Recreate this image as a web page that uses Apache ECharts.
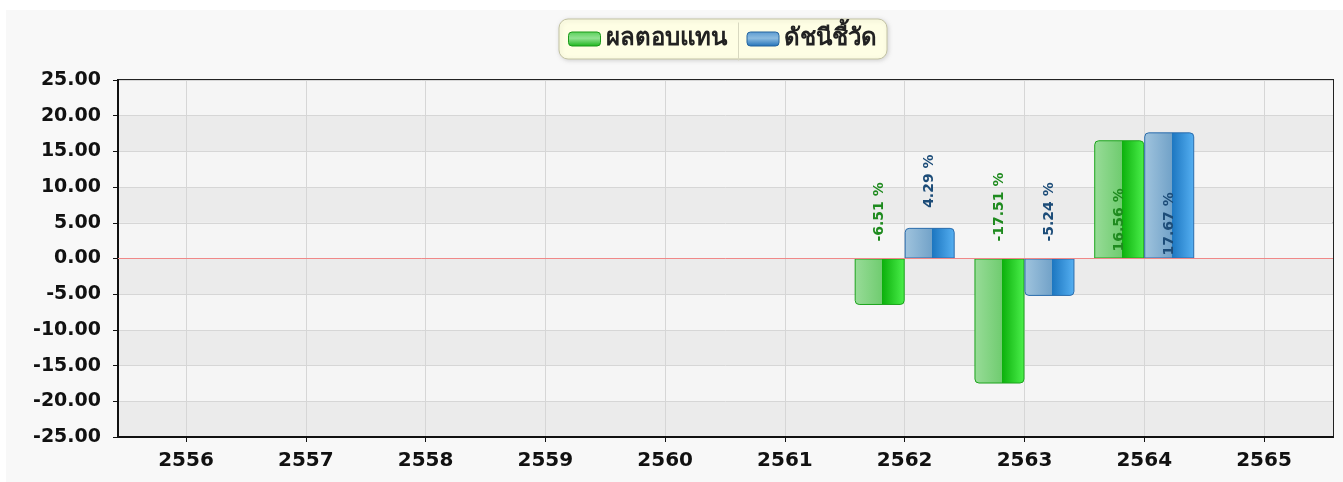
<!DOCTYPE html>
<html>
<head>
<meta charset="utf-8">
<script src="https://cdn.jsdelivr.net/npm/echarts@6/dist/echarts.min.js"></script>
<style>
  html, body { margin: 0; padding: 0; background: #ffffff; width: 1343px; height: 482px; overflow: hidden; }
  #c { position: absolute; left: 6px; top: 10px; width: 1337px; height: 472px; }
</style>
</head>
<body>
<div id="c"></div>
<script>
// ---- data ----
const years = [2556, 2557, 2558, 2559, 2560, 2561, 2562, 2563, 2564, 2565];
const dataYears = [2562, 2563, 2564];
const seriesNames = ['ผลตอบแทน', 'ดัชนีชี้วัด'];
const returnValues = [-6.51, -17.51, 16.56];
const benchmarkValues = [4.29, -5.24, 17.67];
const yMin = -25, yMax = 25, yStep = 5;

const FONT = '"DejaVu Sans", "Noto Sans", sans-serif';
const LG = echarts.graphic.LinearGradient;

const greenFill = new LG(0, 0, 1, 0, [
  { offset: 0, color: '#98dc98' }, { offset: 0.55, color: '#70cc70' },
  { offset: 0.55, color: '#0cb00c' }, { offset: 1, color: '#4cf04c' }
]);
const blueFill = new LG(0, 0, 1, 0, [
  { offset: 0, color: '#a0c4de' }, { offset: 0.55, color: '#72a2c8' },
  { offset: 0.55, color: '#1c76c0' }, { offset: 1, color: '#56b0f2' }
]);

function makeData(vals, bigInside) {
  return vals.map((v, i) => {
    const pos = v >= 0;
    const inside = pos && v > 10;
    return {
      value: [dataYears[i], v],
      itemStyle: { borderRadius: pos ? [4, 4, 0, 0] : [0, 0, 4, 4] },
      label: inside
        ? { position: 'insideBottom', distance: bigInside }
        : { position: 'top', distance: pos ? 20 : 17 }
    };
  });
}

const labelBase = {
  show: true,
  rotate: 90,
  align: 'left',
  verticalAlign: 'middle',
  fontFamily: FONT,
  fontSize: 14,
  fontWeight: 'bold',
  formatter: p => p.value[1].toFixed(2) + ' %'
};

const chart = echarts.init(document.getElementById('c'), null, { renderer: 'canvas' });
chart.setOption({
  backgroundColor: '#f8f8f8',
  animation: false,
  legend: {
    left: 553,
    top: 9,
    orient: 'horizontal',
    backgroundColor: '#fefee4',
    borderColor: '#c4c4a4',
    borderWidth: 1,
    borderRadius: 9,
    padding: [8, 10, 8, 9],
    shadowBlur: 4,
    shadowColor: 'rgba(0,0,0,0.15)',
    shadowOffsetX: 1,
    shadowOffsetY: 1,
    itemWidth: 32,
    itemHeight: 14,
    itemGap: 20,
    icon: 'roundRect',
    textStyle: { fontFamily: FONT, fontSize: 24, fontWeight: 'bold', color: '#222', lineHeight: 24 },
    data: [
      { name: seriesNames[0], itemStyle: { color: new LG(0, 0, 0, 1, [
        { offset: 0, color: '#58d058' }, { offset: 0.45, color: '#92e292' }, { offset: 1, color: '#18b418' }
      ]), borderColor: '#1a9a1a', borderWidth: 1 } },
      { name: seriesNames[1], itemStyle: { color: new LG(0, 0, 0, 1, [
        { offset: 0, color: '#5a9ad0' }, { offset: 0.45, color: '#8cbce0' }, { offset: 1, color: '#1e70b8' }
      ]), borderColor: '#24649e', borderWidth: 1 } }
    ]
  },
  graphic: [{
    type: 'line',
    left: 730, top: 10,
    shape: { x1: 0, y1: 0, x2: 0, y2: 38 },
    style: { stroke: '#d8d8c0', lineWidth: 1 },
    z: 100
  }],
  grid: {
    left: 112, right: 10, top: 70, bottom: 45,
    show: true,
    backgroundColor: 'transparent',
    borderColor: '#222',
    borderWidth: 2
  },
  xAxis: {
    type: 'value',
    min: 2555.432,
    max: 2565.576,
    minInterval: 1,
    maxInterval: 1,
    axisLine: { show: true, onZero: false, lineStyle: { color: '#111', width: 2 } },
    axisTick: { show: true, length: 5, lineStyle: { color: '#111', width: 1 }, customValues: years },
    axisLabel: {
      customValues: years,
      margin: 14,
      fontFamily: FONT, fontSize: 20, fontWeight: 'bold', color: '#111',
      formatter: v => String(Math.round(v))
    },
    splitLine: { show: true, lineStyle: { color: '#d6d6d6', width: 1 } }
  },
  yAxis: {
    type: 'value',
    min: yMin, max: yMax, interval: yStep,
    axisLine: { show: true, onZero: false, lineStyle: { color: '#111', width: 2 } },
    axisTick: { show: true, length: 5, lineStyle: { color: '#111', width: 1 } },
    axisLabel: {
      margin: 17,
      fontFamily: FONT, fontSize: 19, fontWeight: 'bold', color: '#111',
      formatter: v => v.toFixed(2)
    },
    splitLine: { show: true, lineStyle: { color: '#d6d6d6', width: 1 } },
    splitArea: { show: true, areaStyle: { color: ['#ebebeb', '#f5f5f5'] } }
  },
  series: [
    {
      name: seriesNames[0],
      type: 'bar',
      barWidth: 50,
      barGap: '0%',
      itemStyle: { color: greenFill, borderColor: '#1ca41c', borderWidth: 1 },
      label: Object.assign({}, labelBase, { color: '#1e8a1e' }),
      data: makeData(returnValues, 7),
      markLine: {
        silent: true,
        symbol: 'none',
        label: { show: false },
        lineStyle: { color: '#f08888', width: 1, type: 'solid' },
        data: [{ yAxis: 0 }]
      }
    },
    {
      name: seriesNames[1],
      type: 'bar',
      barWidth: 50,
      barGap: '0%',
      itemStyle: { color: blueFill, borderColor: '#2a6cac', borderWidth: 1 },
      label: Object.assign({}, labelBase, { color: '#1c4c78' }),
      data: makeData(benchmarkValues, 3)
    }
  ]
});
</script>
</body>
</html>
